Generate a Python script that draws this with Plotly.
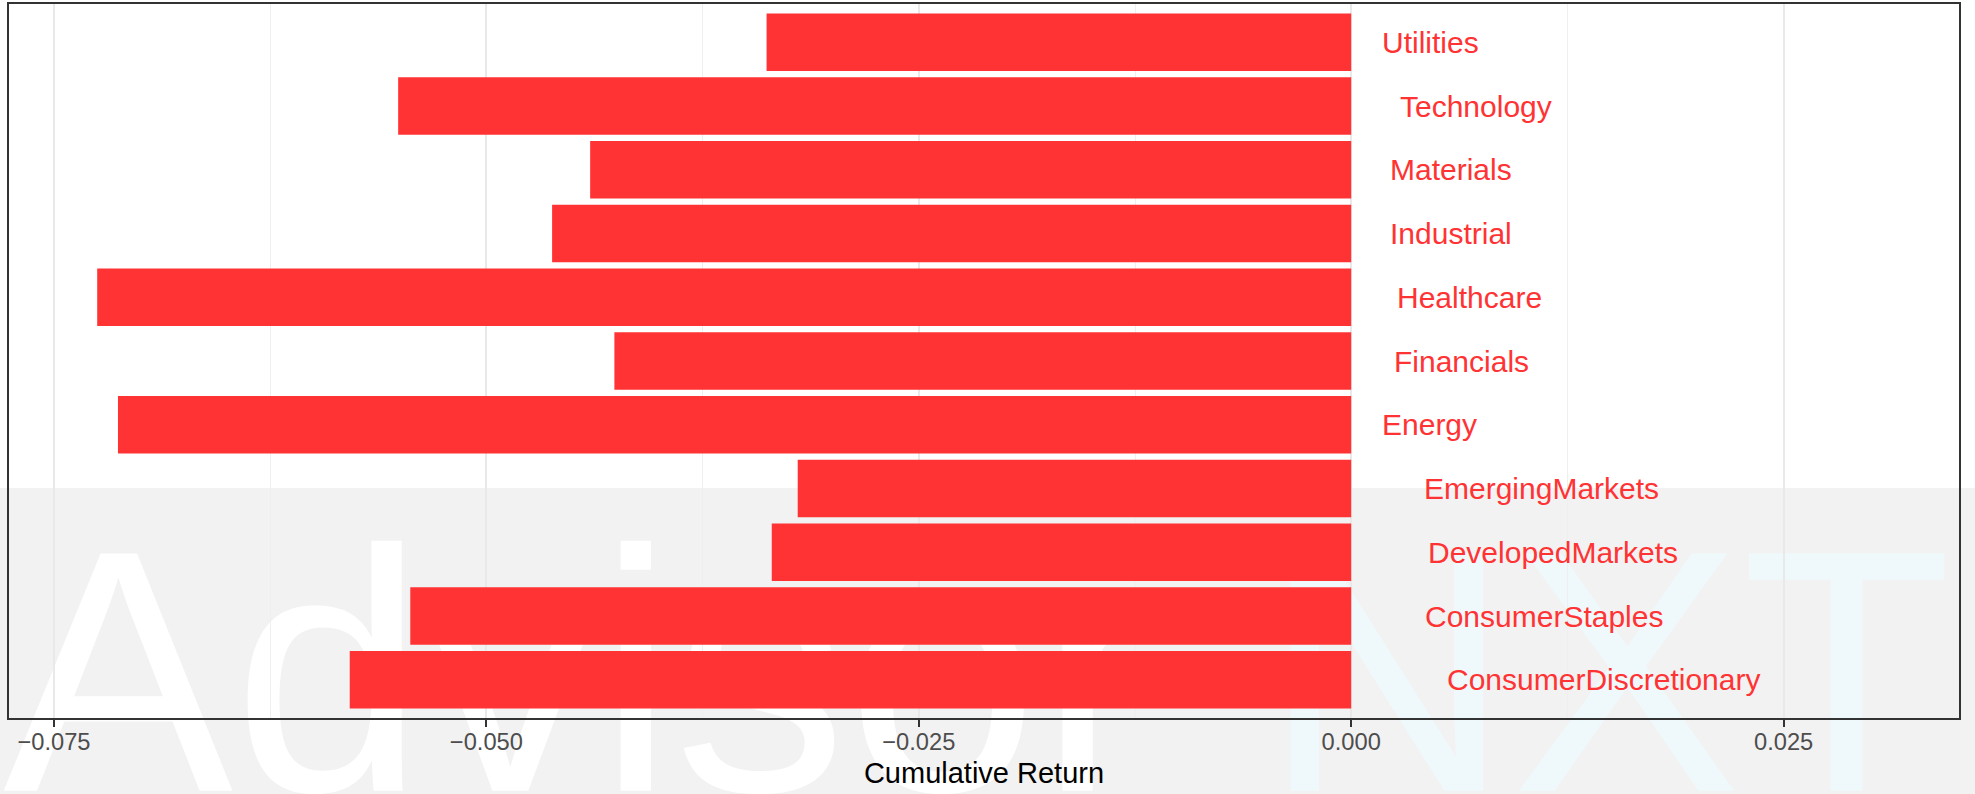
import plotly.graph_objects as go

# ---------------- data ----------------
categories = ["ConsumerDiscretionary", "ConsumerStaples", "DevelopedMarkets",
              "EmergingMarkets", "Energy", "Financials", "Healthcare",
              "Industrial", "Materials", "Technology", "Utilities"]
cum_return = [-0.0579, -0.0544, -0.0335, -0.0320, -0.0713, -0.0426,
              -0.0725, -0.0462, -0.0440, -0.0551, -0.0338]
tick_values = [-0.075, -0.050, -0.025, 0.000, 0.025]
x_title = "Cumulative Return"
watermark_left = "Advisor"
watermark_right = "NXT"

# ---------------- style ----------------
RED = "#ff3333"
FONT = "Liberation Sans"
LABEL_SIZE = 30

# Arial/Helvetica advance widths (per em) for label offset (ggplot hjust=-0.3)
_W = {'A': .667, 'B': .667, 'C': .722, 'D': .722, 'E': .667, 'F': .611,
      'H': .722, 'I': .278, 'M': .833, 'S': .667, 'T': .611, 'U': .722,
      'a': .556, 'b': .556, 'c': .5, 'd': .556, 'e': .556, 'f': .278,
      'g': .556, 'h': .556, 'i': .222, 'k': .5, 'l': .222, 'm': .833,
      'n': .556, 'o': .556, 'p': .556, 'r': .333, 's': .5, 't': .278,
      'u': .556, 'v': .5, 'y': .5}


def text_width(s, size):
    return sum(_W.get(ch, .556) for ch in s) * size


fig = go.Figure()
fig.add_trace(go.Bar(
    y=categories, x=cum_return, orientation="h",
    marker=dict(color=RED, line=dict(width=0)),
    hoverinfo="x+y", showlegend=False,
))

for cat in categories:
    fig.add_annotation(
        x=0, y=cat, xref="x", yref="y", text=cat, showarrow=False,
        xanchor="left", yanchor="middle",
        xshift=0.3 * text_width(cat, LABEL_SIZE),
        font=dict(family=FONT, size=LABEL_SIZE, color=RED),
    )

# watermark band (gray) with light letters, drawn below the bars
fig.add_shape(type="rect", xref="paper", yref="paper",
              x0=-0.01, x1=1.01, y0=-0.12, y1=0.322,
              fillcolor="#f2f2f2", line=dict(width=0), layer="below")
fig.add_shape(type="rect", xref="paper", yref="paper",
              x0=-0.0046, x1=0.7, y0=-0.158, y1=0.3,
              fillcolor="rgba(0,0,0,0)", line=dict(width=0), layer="below",
              label=dict(text=watermark_left, textposition="bottom left",
                         padding=0,
                         font=dict(family=FONT, size=345, color="#ffffff")))
fig.add_shape(type="rect", xref="paper", yref="paper",
              x0=0.6, x1=0.998, y0=-0.158, y1=0.3,
              fillcolor="rgba(0,0,0,0)", line=dict(width=0), layer="below",
              label=dict(text=watermark_right, textposition="bottom right",
                         padding=0,
                         font=dict(family=FONT, size=345, color="#eff9fc")))

fig.update_layout(
    width=1975, height=794,
    margin=dict(l=9, r=16, t=4, b=76),
    paper_bgcolor="white", plot_bgcolor="rgba(0,0,0,0)",
    bargap=0.1,
    font=dict(family=FONT),
)
fig.update_xaxes(
    range=[-0.0776, 0.03514],
    tickvals=tick_values, tickformat=".3f",
    tickfont=dict(family=FONT, size=23.7, color="#4d4d4d"),
    ticks="outside", ticklen=7, tickwidth=1.5, tickcolor="#333333",
    ticklabelstandoff=-5,
    showgrid=True, gridcolor="#e9e9e9", gridwidth=1.6,
    minor=dict(dtick=0.0125, tick0=0, showgrid=True, gridcolor="#efefef",
               gridwidth=0.8, ticks=""),
    zeroline=False,
    showline=True, mirror=True, linecolor="#333333", linewidth=2,
    title=dict(text=x_title, font=dict(family=FONT, size=29, color="black"),
               standoff=8),
    automargin=False,
)
fig.update_yaxes(
    type="category", categoryorder="array", categoryarray=categories,
    range=[-0.6, len(categories) - 0.4],
    showticklabels=False, ticks="", showgrid=False, zeroline=False,
    showline=True, mirror=True, linecolor="#333333", linewidth=2,
    automargin=False,
)

fig.write_html(
    "out.html",
    config={"displayModeBar": False},
    post_script="document.body.style.margin='0';"
                "document.body.style.overflow='hidden';",
)
